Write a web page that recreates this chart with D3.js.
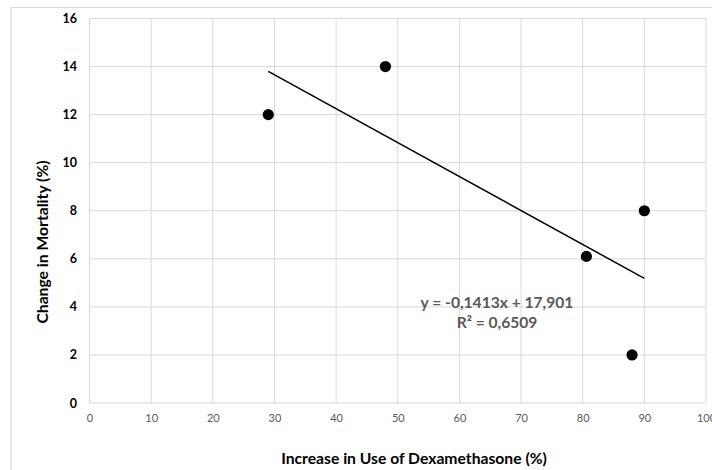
<!DOCTYPE html>
<html>
<head>
<meta charset="utf-8">
<script src="https://cdn.jsdelivr.net/npm/d3@7"></script>
<style>
  body { margin: 0; background: #fff; }
  text { font-family: Lato, "Open Sans", sans-serif; }
</style>
</head>
<body>
<script>
// Data
var dexaUse = [29, 48, 80.6, 90, 88];
var mortality = [12, 14, 6.1, 8, 2];
var xTicks = [0, 10, 20, 30, 40, 50, 60, 70, 80, 90, 100];
var yTicks = [0, 2, 4, 6, 8, 10, 12, 14, 16];
var trendSlope = -0.1413;
var trendIntercept = 17.901;
var trendLabel = ["y = -0,1413x + 17,901", "R\u00B2 = 0,6509"];

var width = 712, height = 470;
var margin = {left: 89.5, top: 18.5, right: 6, bottom: 67};

var svg = d3.select("body").append("svg")
    .attr("width", width)
    .attr("height", height);

// outer chart frame (only top and left visible)
svg.append("path")
    .attr("d", "M11,470 V7.5 H712")
    .attr("fill", "none")
    .attr("stroke", "#d9d9d9")
    .attr("stroke-width", 1.2);

var x = d3.scaleLinear().domain([0, 100]).range([margin.left, width - margin.right]);
var y = d3.scaleLinear().domain([0, 16]).range([height - margin.bottom, margin.top]);

// gridlines
svg.append("g").selectAll("line")
    .data(xTicks)
    .enter().append("line")
    .attr("x1", function(d) { return x(d); })
    .attr("x2", function(d) { return x(d); })
    .attr("y1", y(0))
    .attr("y2", y(16))
    .attr("stroke", "#d9d9d9")
    .attr("stroke-width", 1);

svg.append("g").selectAll("line")
    .data(yTicks)
    .enter().append("line")
    .attr("x1", x(0))
    .attr("x2", x(100))
    .attr("y1", function(d) { return y(d); })
    .attr("y2", function(d) { return y(d); })
    .attr("stroke", "#d9d9d9")
    .attr("stroke-width", 1);

// x axis labels
var xAxis = svg.append("g")
    .attr("transform", "translate(0," + (y(0) + 11) + ")")
    .call(d3.axisBottom(x).tickValues(xTicks).tickSize(0).tickPadding(0));
xAxis.select(".domain").remove();
xAxis.selectAll("text")
    .attr("fill", "#595959")
    .style("font-size", "11px")
    .style("font-family", "Lato, sans-serif");

// y axis labels
var yAxis = svg.append("g")
    .attr("transform", "translate(" + 77 + ",0)")
    .call(d3.axisLeft(y).tickValues(yTicks).tickSize(0).tickPadding(0));
yAxis.select(".domain").remove();
yAxis.selectAll("text")
    .attr("fill", "#000")
    .style("font-size", "12.5px")
    .style("font-weight", "bold")
    .style("font-family", "Lato, sans-serif");

// trendline
var tx = [d3.min(dexaUse), d3.max(dexaUse)];
svg.append("line")
    .attr("x1", x(tx[0]))
    .attr("y1", y(trendSlope * tx[0] + trendIntercept))
    .attr("x2", x(tx[1]))
    .attr("y2", y(trendSlope * tx[1] + trendIntercept))
    .attr("stroke", "#000")
    .attr("stroke-width", 1.5);

// points
svg.append("g").selectAll("circle")
    .data(dexaUse)
    .enter().append("circle")
    .attr("cx", function(d) { return x(d); })
    .attr("cy", function(d, i) { return y(mortality[i]); })
    .attr("r", 5.6)
    .attr("fill", "#000");

// equation label
svg.append("g").selectAll("text")
    .data(trendLabel)
    .enter().append("text")
    .attr("x", 497)
    .attr("y", function(d, i) { return 308 + i * 20; })
    .attr("text-anchor", "middle")
    .attr("fill", "#595959")
    .style("font-size", "15.6px")
    .style("font-weight", "bold")
    .text(function(d) { return d; });

// axis titles
svg.append("text")
    .attr("x", 414)
    .attr("y", 464)
    .attr("text-anchor", "middle")
    .attr("fill", "#000")
    .style("font-size", "15.7px")
    .style("font-weight", "bold")
    .text("Increase in Use of Dexamethasone (%)");

svg.append("text")
    .attr("transform", "translate(48," + 242 + ") rotate(-90)")
    .attr("text-anchor", "middle")
    .attr("fill", "#000")
    .style("font-size", "15.7px")
    .style("font-weight", "bold")
    .text("Change in Mortality (%)");
</script>
</body>
</html>
